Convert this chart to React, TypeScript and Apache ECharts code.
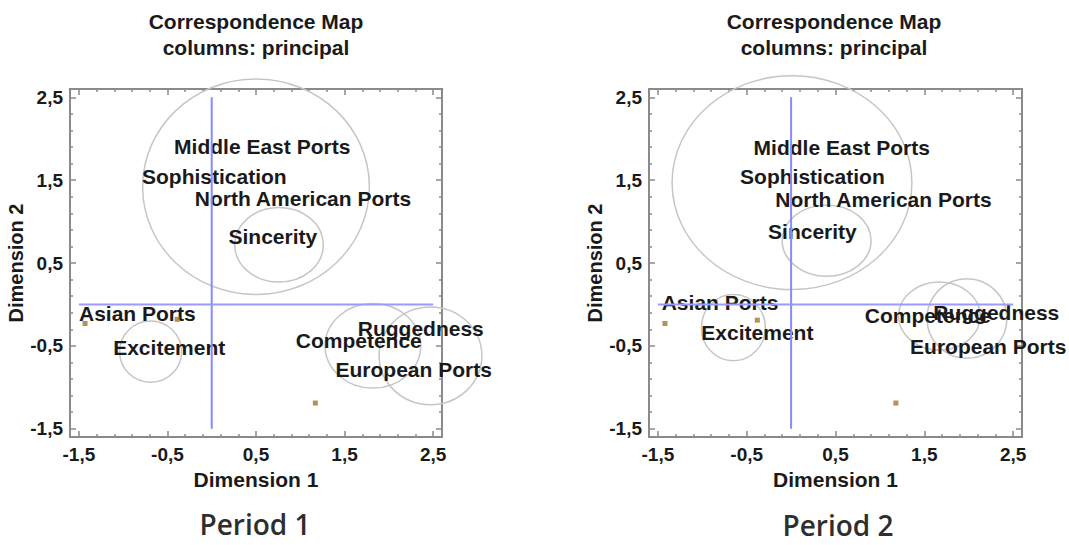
import React, { useEffect, useRef } from 'react';
import * as echarts from 'echarts';

// ---- axis ticks ----
const axisMin = -1.6;
const axisMax = 2.6;
const majorTicks = [-1.5, -0.5, 0.5, 1.5, 2.5];
const minorTicks = [-1.3, -1.1, -0.9, -0.7, -0.3, -0.1, 0.1, 0.3, 0.7, 0.9, 1.1, 1.3, 1.7, 1.9, 2.1, 2.3];

// ---- point labels ----
const labelNames = [
  'Middle East Ports',
  'Sophistication',
  'North American Ports',
  'Sincerity',
  'Asian Ports',
  'Excitement',
  'Competence',
  'Ruggedness',
  'European Ports',
];
const p1LabelX = [0.57, 0.03, 1.03, 0.69, -0.84, -0.48, 1.66, 2.36, 2.28];
const p1LabelY = [1.91, 1.54, 1.28, 0.82, -0.11, -0.52, -0.44, -0.29, -0.78];
const p2LabelX = [0.57, 0.24, 1.04, 0.24, -0.8, -0.38, 1.54, 2.31, 2.22];
const p2LabelY = [1.9, 1.55, 1.27, 0.88, 0.02, -0.34, -0.13, -0.1, -0.51];

// ---- confidence ellipses (centre, radius in data units) ----
const p1CircleX = [0.5, 0.76, -0.69, 1.82, 2.47];
const p1CircleY = [1.42, 0.72, -0.57, -0.5, -0.62];
const p1CircleRx = [1.28, 0.5, 0.35, 0.54, 0.58];
const p1CircleRy = [1.3, 0.45, 0.37, 0.51, 0.59];
const p2CircleX = [0.01, 0.4, -0.65, 1.67, 1.98];
const p2CircleY = [1.47, 0.77, -0.28, -0.14, -0.17];
const p2CircleRx = [1.35, 0.5, 0.36, 0.46, 0.45];
const p2CircleRy = [1.29, 0.43, 0.4, 0.41, 0.48];

// ---- small point markers ----
const p1MarkX = [-1.43, -0.39, 1.17];
const p1MarkY = [-0.23, -0.18, -1.19];
const p2MarkX = [-1.42, -0.38, 1.18];
const p2MarkY = [-0.23, -0.19, -1.19];

// ---- reference cross ----
const crossV = [[0, -1.5], [0, 2.5]];
const crossH = [[-1.5, 0], [2.5, 0]];

const FONT = '"Liberation Sans", Arial, sans-serif';
const TICK_COLOR = '#8a8a8a';
const TEXT_COLOR = '#1a1a1a';

const fmt = (v: number) => v.toFixed(1).replace('.', ',');

function axisBase(g: number) {
  return {
    gridIndex: g,
    type: 'value',
    min: axisMin,
    max: axisMax,
    axisLine: { show: false, onZero: false },
    splitLine: { show: false },
  };
}
const majorTick = { show: true, inside: true, length: 6, customValues: majorTicks, lineStyle: { color: TICK_COLOR, width: 1.5 } };
const minorTick = { show: true, inside: true, length: 3, customValues: minorTicks, lineStyle: { color: TICK_COLOR, width: 1.5 } };
const tickLabel = (margin: number) => ({
  show: true,
  customValues: majorTicks,
  formatter: fmt,
  fontSize: 19,
  fontWeight: 'bold',
  fontFamily: FONT,
  color: TEXT_COLOR,
  margin,
});

function xAxes(g: number) {
  const base = axisBase(g);
  return [
    {
      ...base,
      position: 'bottom',
      axisTick: majorTick,
      axisLabel: tickLabel(8),
      name: 'Dimension 1',
      nameLocation: 'middle',
      nameGap: 32,
      nameTextStyle: { fontSize: 21, fontWeight: 'bold', fontFamily: FONT, color: TEXT_COLOR },
    },
    { ...base, position: 'bottom', axisTick: minorTick, axisLabel: { show: false } },
    { ...base, position: 'top', axisTick: majorTick, axisLabel: { show: false } },
    { ...base, position: 'top', axisTick: minorTick, axisLabel: { show: false } },
  ];
}

function yAxes(g: number) {
  const base = axisBase(g);
  return [
    {
      ...base,
      position: 'left',
      axisTick: majorTick,
      axisLabel: tickLabel(7),
      name: 'Dimension 2',
      nameLocation: 'middle',
      nameRotate: 90,
      nameGap: 38,
      nameTextStyle: { fontSize: 20, fontWeight: 'bold', fontFamily: FONT, color: TEXT_COLOR },
    },
    { ...base, position: 'left', axisTick: minorTick, axisLabel: { show: false } },
    { ...base, position: 'right', axisTick: majorTick, axisLabel: { show: false } },
    { ...base, position: 'right', axisTick: minorTick, axisLabel: { show: false } },
  ];
}

function panelSeries(
  g: number,
  labelX: number[],
  labelY: number[],
  cx: number[],
  cy: number[],
  rx: number[],
  ry: number[],
  mx: number[],
  my: number[]
) {
  const xi = g * 4;
  const yi = g * 4;
  return [
    {
      type: 'custom',
      xAxisIndex: xi,
      yAxisIndex: yi,
      silent: true,
      z: 2,
      data: cx.map((x, i) => [x, cy[i], rx[i], ry[i]]),
      renderItem: (_params: any, api: any) => {
        const c = api.coord([api.value(0), api.value(1)]);
        const s = api.size([api.value(2), api.value(3)]);
        return {
          type: 'ellipse',
          shape: { cx: c[0], cy: c[1], rx: s[0], ry: s[1] },
          style: { fill: 'none', stroke: '#c6c6c6', lineWidth: 1.5 },
        };
      },
    },
    {
      type: 'custom',
      xAxisIndex: xi,
      yAxisIndex: yi,
      silent: true,
      z: 3,
      data: labelX.map((x, i) => ({ name: labelNames[i], value: [x, labelY[i]] })),
      renderItem: (params: any, api: any) => {
        const p = api.coord([api.value(0), api.value(1)]);
        return {
          type: 'text',
          x: p[0],
          y: p[1],
          style: {
            text: labelNames[params.dataIndex],
            align: 'center',
            verticalAlign: 'middle',
            fontSize: 21,
            fontWeight: 'bold',
            fontFamily: FONT,
            fill: TEXT_COLOR,
          },
        };
      },
    },
    {
      type: 'scatter',
      xAxisIndex: xi,
      yAxisIndex: yi,
      symbol: 'rect',
      symbolSize: 5,
      itemStyle: { color: '#a8742a' },
      z: 4,
      data: mx.map((x, i) => [x, my[i]]),
    },
    {
      type: 'line',
      xAxisIndex: xi,
      yAxisIndex: yi,
      symbol: 'none',
      lineStyle: { color: '#8a8aff', width: 2 },
      z: 5,
      data: crossV,
    },
    {
      type: 'line',
      xAxisIndex: xi,
      yAxisIndex: yi,
      symbol: 'none',
      lineStyle: { color: '#9a9aff', width: 2 },
      z: 5,
      data: crossH,
    },
  ];
}

function titleTexts(cx: number) {
  const style = { fontSize: 21, fontWeight: 'bold', fontFamily: FONT, fill: TEXT_COLOR, align: 'center', verticalAlign: 'middle' };
  return [
    { type: 'text', x: cx, y: 21, style: { ...style, text: 'Correspondence Map' } },
    { type: 'text', x: cx, y: 47, style: { ...style, text: 'columns: principal' } },
  ];
}

const periodStyle = {
  fontSize: 28,
  fontWeight: 600,
  fontFamily: '"Open Sans", sans-serif',
  fill: '#2e2e2e',
  align: 'center',
  verticalAlign: 'middle',
};

export default function App() {
  const ref = useRef<HTMLDivElement>(null);
  useEffect(() => {
    if (!ref.current) return;
    const chart = echarts.init(ref.current, null, { renderer: 'svg' });
    const gridStyle = { show: true, borderColor: '#8a8a8a', borderWidth: 2, backgroundColor: 'transparent' };
    chart.setOption({
      animation: false,
      backgroundColor: '#ffffff',
      grid: [
        { ...gridStyle, left: 70, top: 89, width: 372, height: 348 },
        { ...gridStyle, left: 649, top: 89, width: 373, height: 348 },
      ],
      xAxis: [...xAxes(0), ...xAxes(1)],
      yAxis: [...yAxes(0), ...yAxes(1)],
      series: [
        ...panelSeries(0, p1LabelX, p1LabelY, p1CircleX, p1CircleY, p1CircleRx, p1CircleRy, p1MarkX, p1MarkY),
        ...panelSeries(1, p2LabelX, p2LabelY, p2CircleX, p2CircleY, p2CircleRx, p2CircleRy, p2MarkX, p2MarkY),
      ],
      graphic: [
        ...titleTexts(256),
        ...titleTexts(834),
        { type: 'text', x: 255, y: 524, style: { ...periodStyle, text: 'Period 1' } },
        { type: 'text', x: 838, y: 525, style: { ...periodStyle, text: 'Period 2' } },
      ],
    });
    return () => chart.dispose();
  }, []);
  return <div ref={ref} style={{ position: 'absolute', left: 0, top: 0, width: 1069, height: 545 }} />;
}
